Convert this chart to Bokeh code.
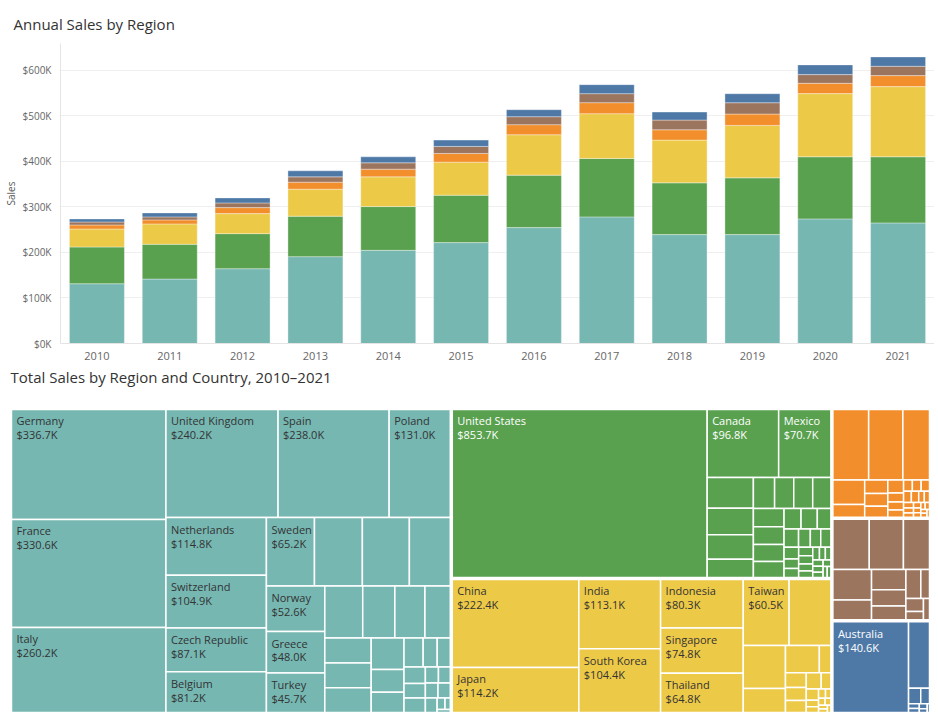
import math
from bokeh.plotting import figure
from bokeh.models import ColumnDataSource, Range1d, FactorRange, FixedTicker, PrintfTickFormatter
from bokeh.core.properties import value
from bokeh.embed import file_html
from bokeh.resources import INLINE

FONT = "Open Sans"

# ---------------- data: annual sales by region (thousands) ----------------
years = [str(y) for y in range(2010, 2022)]
regions = ["Europe", "North America", "Asia", "Africa", "South America", "Oceania"]
region_keys = ["europe", "namerica", "asia", "africa", "samerica", "oceania"]
colors = ["#76b7b2", "#59a14f", "#edc948", "#f28e2b", "#9c755f", "#4e79a7"]
label_colors = ["#333333", "#ffffff", "#333333", "#333333", "#ffffff", "#ffffff"]

sales_europe = [131.3, 141.6, 164.3, 190.8, 204.7, 221.6, 254.6, 278.1, 239.2, 239.2, 273.7, 264.9]
sales_namerica = [80.7, 76.3, 77.0, 88.8, 96.1, 104.2, 115.2, 128.4, 113.7, 124.7, 136.5, 145.3]
sales_asia = [39.6, 44.8, 44.0, 59.4, 65.3, 72.6, 88.8, 98.3, 93.9, 115.2, 138.7, 154.1]
sales_africa = [8.8, 8.8, 13.2, 15.4, 16.9, 19.1, 22.0, 24.2, 22.7, 24.9, 22.7, 24.2]
sales_samerica = [6.6, 6.6, 10.3, 11.7, 13.9, 15.4, 17.6, 19.8, 21.3, 24.9, 19.1, 20.5]
sales_oceania = [6.6, 8.8, 11.0, 13.2, 13.2, 13.9, 15.4, 19.8, 17.6, 19.8, 21.3, 20.5]

y_ticks = [0, 100, 200, 300, 400, 500, 600]

# ---------------- data: total sales by country (thousands) ----------------
europe_names = ["Germany", "France", "Italy", "United Kingdom", "Spain", "Poland", "Netherlands",
                "Switzerland", "Czech Republic", "Belgium", "Sweden", "Austria", "Portugal", "Denmark",
                "Norway", "Greece", "Turkey", "Ireland", "Hungary", "Romania", "Finland", "Ukraine",
                "Slovakia", "Croatia", "Slovenia", "Bulgaria", "Serbia", "Luxembourg", "Lithuania",
                "Estonia", "Latvia", "Iceland", "Cyprus", "Malta", "Belarus", "Albania",
                "Bosnia and Herzegovina", "North Macedonia", "Moldova", "Montenegro", "Monaco"]
europe_values = [336.7, 330.6, 260.2, 240.2, 238.0, 131.0, 114.8, 104.9, 87.1, 81.2, 65.2, 65.0,
                 63.8, 55.5, 52.6, 48.0, 45.7, 38.9, 33.0, 30.9, 26.0, 23.0, 22.9, 22.7, 20.5, 14.9,
                 13.1, 11.0, 8.1, 7.5, 7.0, 6.2, 6.1, 4.2, 3.8, 3.7, 3.6, 3.4, 1.8, 1.2, 0.8]

namerica_names = ["United States", "Canada", "Mexico", "Guatemala", "Dominican Republic", "Costa Rica",
                  "Panama", "Puerto Rico", "Honduras", "Cuba", "El Salvador", "Jamaica", "Nicaragua",
                  "Trinidad and Tobago", "Bahamas", "Haiti", "Belize", "Barbados", "Bermuda",
                  "Cayman Islands", "Aruba", "Curaçao", "Saint Lucia", "Greenland", "Antigua and Barbuda",
                  "Grenada", "Dominica", "Saint Kitts and Nevis", "Saint Vincent", "Turks and Caicos",
                  "British Virgin Islands", "US Virgin Islands", "Montserrat", "Sint Maarten",
                  "Saint Martin", "Guadeloupe", "Martinique", "Saint Pierre and Miquelon"]
namerica_values = [853.7, 96.8, 70.7, 28.4, 24.4, 22.5, 16.9, 13.2, 11.9, 11.8, 11.3, 11.1, 10.8,
                   10.4, 9.8, 6.9, 6.6, 5.5, 5.3, 4.3, 3.8, 3.7, 3.4, 2.8, 2.6, 2.4, 2.3, 2.0, 1.8,
                   1.3, 1.7, 1.5, 1.4, 1.2, 1.1, 1.0, 0.9, 0.8]

asia_names = ["China", "Japan", "India", "South Korea", "Indonesia", "Singapore", "Thailand", "Taiwan",
              "Philippines", "Malaysia", "Vietnam", "Pakistan", "Bangladesh", "Sri Lanka", "Kazakhstan",
              "Hong Kong", "Cambodia", "Nepal", "Myanmar", "Mongolia", "Uzbekistan", "Brunei", "Laos",
              "Macau", "Maldives", "Bhutan", "Timor-Leste", "Kyrgyzstan"]
asia_values = [222.4, 114.2, 113.1, 104.4, 80.3, 74.8, 64.8, 60.5, 55.2, 36.3, 20.2, 18.5, 6.3, 6.1,
               5.4, 5.0, 4.8, 3.1, 2.8, 1.6, 1.4, 1.3, 1.0, 0.9, 0.8, 0.7, 0.6, 0.5]

africa_names = ["Nigeria", "South Africa", "Egypt", "Morocco", "Kenya", "Algeria", "Ghana", "Ethiopia",
                "Tunisia", "Tanzania", "Côte d'Ivoire", "Angola", "Uganda", "Cameroon", "Senegal",
                "Zambia", "Zimbabwe", "Botswana", "Namibia", "Mozambique", "Rwanda", "Mauritius",
                "Madagascar", "Mali", "Benin", "Gabon", "Malawi", "Togo", "Niger", "Sudan"]
africa_values = [51.4, 49.1, 38.3, 15.9, 8.3, 6.4, 6.0, 5.2, 4.2, 2.9, 2.5, 2.4, 2.0, 2.0, 1.9, 1.8,
                 1.7, 1.3, 1.2, 1.1, 1.0, 0.9, 0.8, 0.7, 0.7, 0.6, 0.6, 0.5, 0.5, 0.4]

samerica_names = ["Brazil", "Argentina", "Colombia", "Chile", "Peru", "Ecuador", "Venezuela", "Uruguay",
                  "Bolivia", "Paraguay", "Guyana", "Suriname", "French Guiana"]
samerica_values = [37.3, 35.0, 26.7, 24.1, 15.4, 14.2, 11.3, 9.6, 8.8, 5.1, 4.7, 2.9, 2.6]

oceania_names = ["Australia", "New Zealand", "Papua New Guinea", "Fiji", "Solomon Islands", "Vanuatu",
                 "Samoa", "Kiribati", "Tonga"]
oceania_values = [140.6, 28.5, 3.9, 2.8, 1.0, 0.9, 0.8, 0.6, 0.4]

leaf_names = [europe_names, namerica_names, asia_names, africa_names, samerica_names, oceania_names]
leaf_values = [europe_values, namerica_values, asia_values, africa_values, samerica_values, oceania_values]

# ---------------- chart 1: stacked bars ----------------
bar_data = dict(year=years, europe=sales_europe, namerica=sales_namerica, asia=sales_asia,
                africa=sales_africa, samerica=sales_samerica, oceania=sales_oceania)
src = ColumnDataSource(bar_data)

p1 = figure(x_range=FactorRange(*years, range_padding=0), y_range=Range1d(0, 659),
            width=934, height=362, min_border_left=59, min_border_right=0,
            min_border_top=43, min_border_bottom=18, toolbar_location=None,
            output_backend="svg", title="Annual Sales by Region")
p1.vbar_stack(region_keys, x="year", width=0.755, color=colors, source=src,
              line_color="white", line_width=0.6, line_alpha=0.6)

p1.title.text_font = FONT
p1.title.text_font_size = "15px"
p1.title.text_font_style = "normal"
p1.title.text_color = "#333333"
p1.title.align = "left"
p1.title.offset = -47
p1.title.standoff = 20
p1.outline_line_color = None
p1.xgrid.grid_line_color = None
p1.ygrid.grid_line_color = "#efefef"
p1.yaxis.ticker = FixedTicker(ticks=y_ticks)
p1.yaxis.formatter = PrintfTickFormatter(format="$%dK")
p1.yaxis.axis_label = "Sales"
for ax in (p1.xaxis[0], p1.yaxis[0]):
    ax.axis_line_color = "#e4e4e4"
    ax.major_tick_line_color = None
    ax.minor_tick_line_color = None
    ax.major_label_text_font = FONT
    ax.major_label_text_color = "#666666"
    ax.axis_label_text_font = FONT
    ax.axis_label_text_color = "#555555"
    ax.axis_label_text_font_style = "normal"
p1.yaxis.major_label_text_font_size = "10px"
p1.yaxis.axis_label_text_font_size = "10px"
p1.yaxis.major_label_standoff = 3
p1.yaxis.axis_label_standoff = 2
p1.xaxis.major_label_text_font_size = "11px"
p1.xaxis.major_label_standoff = 2

# ---------------- chart 2: treemap ----------------
TARGET = 1.66  # preferred thickness/length ratio of the cells in a strip


def squarify(vals, x, y, w, h):
    total = float(sum(vals))
    areas = [v * w * h / total for v in vals]
    rects = []
    i = 0
    while i < len(areas):
        vertical = w >= h
        side = h if vertical else w
        best_n, best_dev, n = 1, None, 1
        while i + n <= len(areas):
            s = sum(areas[i:i + n])
            thick = s / side
            dev = max(abs(math.log(thick * thick / a) - math.log(TARGET)) for a in areas[i:i + n])
            if best_dev is not None and dev > best_dev:
                break
            best_dev, best_n = dev, n
            n += 1
        strip = areas[i:i + best_n]
        thick = sum(strip) / side
        pos = y if vertical else x
        for a in strip:
            length = a / thick
            if vertical:
                rects.append((x, pos, thick, length))
            else:
                rects.append((pos, y, length, thick))
            pos += length
        if vertical:
            x += thick
            w -= thick
        else:
            y += thick
            h -= thick
        i += best_n
    return rects


W, H = 920, 306
region_totals = [sum(v) for v in leaf_values]
order = sorted(range(len(regions)), key=lambda k: -region_totals[k])
top_rects = squarify([region_totals[k] for k in order], 0, 0, W, H)

quads = dict(left=[], right=[], top=[], bottom=[], color=[])
labels = dict(x=[], y1=[], y2=[], name=[], val=[], tcolor=[])
INSET = 1.0
CHARW = 6.3
for k, (rx, ry, rw, rh) in zip(order, top_rects):
    rx, ry, rw, rh = rx + INSET, ry + INSET, rw - 2 * INSET, rh - 2 * INSET
    pairs = sorted(zip(leaf_values[k], leaf_names[k]), key=lambda t: -t[0])
    vals = [p[0] for p in pairs]
    names = [p[1] for p in pairs]
    for (lx, ly, lw, lh), v, nm in zip(squarify(vals, rx, ry, rw, rh), vals, names):
        quads["left"].append(lx)
        quads["right"].append(lx + lw)
        quads["top"].append(ly)
        quads["bottom"].append(ly + lh)
        quads["color"].append(colors[k])
        vs = "${:,.1f}K".format(v)
        if lh >= 34 and max(len(nm), len(vs)) * CHARW + 6 <= lw:
            labels["x"].append(lx + 5)
            labels["y1"].append(ly + 4)
            labels["y2"].append(ly + 18)
            labels["name"].append(nm)
            labels["val"].append(vs)
            labels["tcolor"].append(label_colors[k])

p2 = figure(width=934, height=351, x_range=Range1d(0, W), y_range=Range1d(H, 0),
            min_border_left=10, min_border_right=4, min_border_top=45, min_border_bottom=0,
            x_axis_type=None, y_axis_type=None, toolbar_location=None, output_backend="svg",
            title="Total Sales by Region and Country, 2010–2021\n ")
p2.outline_line_color = None
p2.grid.visible = False
p2.title.text_font = FONT
p2.title.text_font_size = "15px"
p2.title.text_font_style = "normal"
p2.title.text_color = "#333333"
p2.title.align = "left"
p2.title.text_line_height = 1.0
p2.title.standoff = 4

p2.quad(left="left", right="right", top="top", bottom="bottom", fill_color="color",
        line_color="white", line_width=1.5, source=ColumnDataSource(quads))
lsrc = ColumnDataSource(labels)
p2.text(x="x", y="y1", text="name", text_color="tcolor", text_font=value(FONT),
        text_font_size="11px", text_baseline="top", text_align="left", source=lsrc)
p2.text(x="x", y="y2", text="val", text_color="tcolor", text_font=value(FONT),
        text_font_size="11px", text_baseline="top", text_align="left", source=lsrc)

open("out.html", "w").write(file_html([p1, p2], INLINE))
